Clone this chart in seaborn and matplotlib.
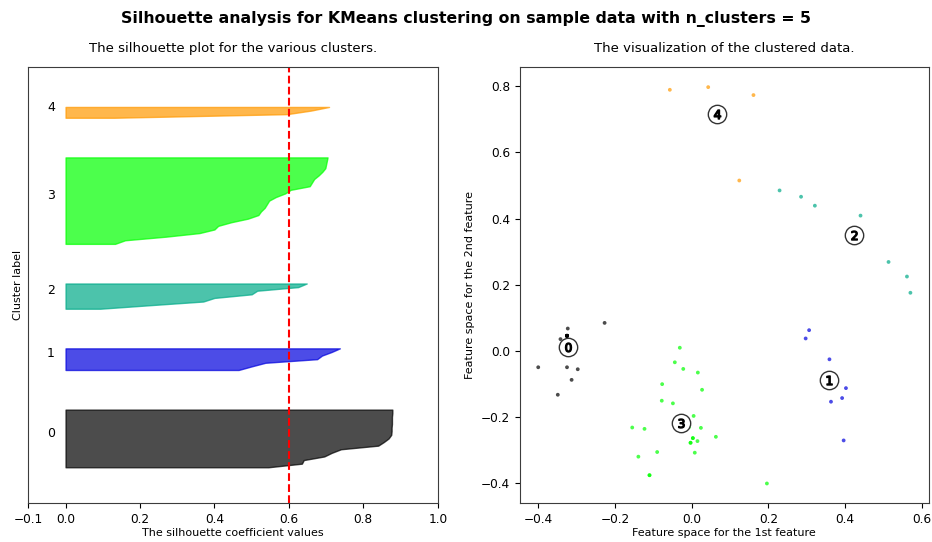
import numpy as np
import pandas as pd
import matplotlib
matplotlib.use("Agg")
import matplotlib.pyplot as plt
from matplotlib import cm
import seaborn as sns

n_clusters = 5

# Silhouette coefficient of every sample, grouped by cluster (sorted ascending)
sil_0 = [0.545, 0.635, 0.640, 0.695, 0.715, 0.740, 0.840, 0.855, 0.868,
         0.875, 0.876, 0.876, 0.877, 0.877, 0.877, 0.878, 0.878]
sil_1 = [0.465, 0.500, 0.537, 0.676, 0.689, 0.715, 0.737]
sil_2 = [0.093, 0.230, 0.370, 0.400, 0.500, 0.515, 0.625, 0.648]
sil_3 = [0.133, 0.160, 0.270, 0.360, 0.400, 0.410, 0.445, 0.490, 0.518,
         0.525, 0.535, 0.541, 0.547, 0.565, 0.590, 0.605, 0.656, 0.662,
         0.668, 0.680, 0.690, 0.698, 0.700, 0.702, 0.704]
sil_4 = [0.130, 0.595, 0.660, 0.708]

# 2-D feature coordinates of the samples in each cluster
x_0 = [-0.400, -0.349, -0.325, -0.313, -0.297, -0.323, -0.342, -0.227,
       -0.325, -0.325, -0.325, -0.325, -0.325, -0.325, -0.325, -0.325, -0.325]
y_0 = [-0.049, -0.132, -0.049, -0.087, -0.055, 0.068, 0.036, 0.085,
       0.046, 0.046, 0.046, 0.046, 0.046, 0.046, 0.046, 0.046, 0.046]
x_1 = [0.306, 0.297, 0.359, 0.402, 0.392, 0.363, 0.396]
y_1 = [0.063, 0.038, -0.025, -0.112, -0.142, -0.153, -0.270]
x_2 = [0.229, 0.285, 0.321, 0.440, 0.513, 0.561, 0.570, 0.440]
y_2 = [0.485, 0.466, 0.439, 0.409, 0.269, 0.225, 0.176, 0.335]
x_3 = [-0.031, -0.044, -0.022, 0.016, -0.077, 0.027, -0.078, -0.049, 0.005,
       -0.155, -0.123, -0.007, 0.024, 0.003, 0.015, -0.003, 0.063, -0.090,
       0.008, -0.139, -0.110, 0.196, -0.110, 0.003, -0.003]
y_3 = [0.010, -0.034, -0.054, -0.065, -0.100, -0.117, -0.150, -0.158, -0.196,
       -0.231, -0.235, -0.230, -0.232, -0.263, -0.272, -0.277, -0.259, -0.305,
       -0.307, -0.319, -0.375, -0.400, -0.375, -0.263, -0.277]
x_4 = [-0.057, 0.043, 0.161, 0.124]
y_4 = [0.789, 0.797, 0.773, 0.515]

# Cluster centres
centre_x = [-0.323, 0.359, 0.422, -0.028, 0.067]
centre_y = [0.013, -0.087, 0.350, -0.218, 0.716]

sil_values = [sil_0, sil_1, sil_2, sil_3, sil_4]
xs = [x_0, x_1, x_2, x_3, x_4]
ys = [y_0, y_1, y_2, y_3, y_4]

plt.rcParams["font.family"] = ["DejaVu Sans"]
plt.rcParams["font.size"] = 8.7
plt.rcParams["axes.labelsize"] = 8
plt.rcParams["axes.edgecolor"] = "#3c3c3c"

fig, (ax1, ax2) = plt.subplots(1, 2, figsize=(9.32, 5.42), dpi=100)
fig.subplots_adjust(left=0.0304, right=0.9968, bottom=0.0714, top=0.8758,
                    wspace=0.2)

n_samples = sum(len(v) for v in sil_values)

# ---- silhouette plot ----
ax1.set_xlim([-0.1, 1])
ax1.set_ylim([0, n_samples + (n_clusters + 1) * 10])
y_lower = 10
for i, vals in enumerate(sil_values):
    vals = np.sort(np.asarray(vals))
    size = len(vals)
    y_upper = y_lower + size
    color = cm.nipy_spectral(float(i) / n_clusters)
    ax1.fill_betweenx(np.arange(y_lower, y_upper), 0, vals,
                      facecolor=color, edgecolor=color, alpha=0.7)
    ax1.text(-0.05, y_lower + 0.5 * size, str(i), fontsize=9)
    y_lower = y_upper + 10

silhouette_avg = np.mean(np.concatenate([np.asarray(v) for v in sil_values]))
ax1.axvline(x=silhouette_avg, color="red", linestyle="--")
ax1.set_yticks([])
ax1.set_xticks([-0.1, 0, 0.2, 0.4, 0.6, 0.8, 1])
ax1.set_title("The silhouette plot for the various clusters.", fontsize=9.5, pad=11)
ax1.set_xlabel("The silhouette coefficient values", labelpad=1.5)
ax1.set_ylabel("Cluster label")

# ---- scatter of the clustered data ----
df = pd.DataFrame({
    "x": np.concatenate(xs),
    "y": np.concatenate(ys),
    "cluster": np.concatenate([[i] * len(v) for i, v in enumerate(xs)]),
})
palette = {i: cm.nipy_spectral(float(i) / n_clusters) for i in range(n_clusters)}
sns.scatterplot(data=df, x="x", y="y", hue="cluster", palette=palette,
                marker=".", s=30, linewidth=0, alpha=0.7, legend=False, ax=ax2)

sns.scatterplot(x=centre_x, y=centre_y, marker="o", color="white", s=175,
                edgecolor="#333333", linewidth=1, alpha=1, legend=False, ax=ax2)
for i, (cx, cy) in enumerate(zip(centre_x, centre_y)):
    ax2.scatter(cx, cy, marker="$%d$" % i, alpha=1, s=42, color="k")

ax2.set_title("The visualization of the clustered data.", fontsize=9.5, pad=11)
ax2.set_xlabel("Feature space for the 1st feature", labelpad=1.5)
ax2.set_ylabel("Feature space for the 2nd feature")

fig.suptitle("Silhouette analysis for KMeans clustering on sample data "
             "with n_clusters = %d" % n_clusters,
             fontsize=11.3, fontweight="bold", y=0.965, va="center")

fig.savefig("out.png", dpi=100)
